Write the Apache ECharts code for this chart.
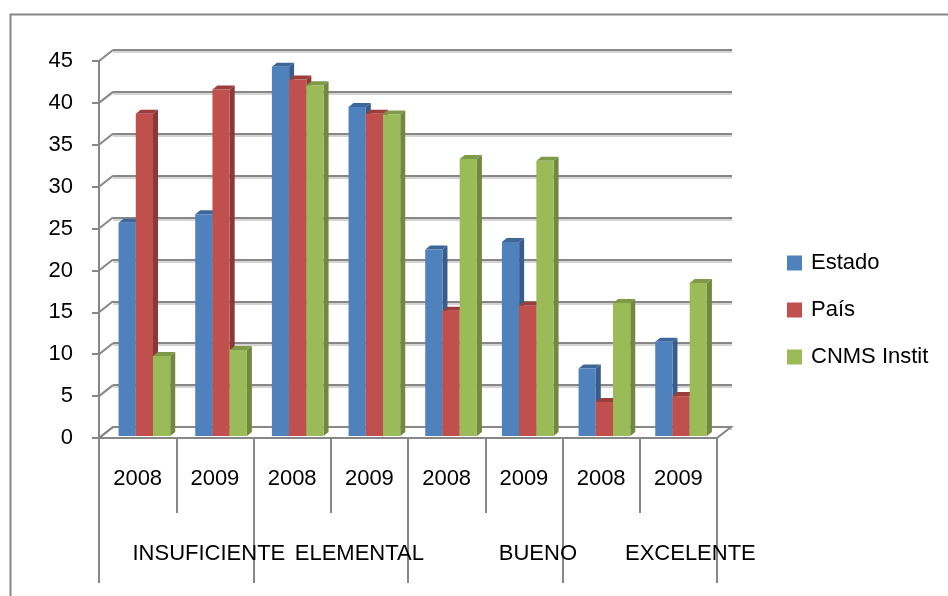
<!DOCTYPE html>
<html>
<head>
<meta charset="utf-8">
<script src="https://cdn.jsdelivr.net/npm/echarts@6/dist/echarts.min.js"></script>
<style>html,body{margin:0;padding:0;background:#fff}#c{width:948px;height:596px}</style>
</head>
<body>
<div id="c"></div>
<script>
const categories = ['2008', '2009', '2008', '2009', '2008', '2009', '2008', '2009'];
const groups = ['INSUFICIENTE', 'ELEMENTAL', 'BUENO', 'EXCELENTE'];
const seriesNames = ['Estado', 'País', 'CNMS Instit'];
const estado = [25.7, 26.7, 44.3, 39.5, 22.5, 23.4, 8.3, 11.5];
const pais = [38.7, 41.6, 42.8, 38.7, 15.2, 15.8, 4.3, 5.0];
const cnms = [9.8, 10.5, 42.1, 38.6, 33.3, 33.1, 16.1, 18.5];
const yTicks = [0, 5, 10, 15, 20, 25, 30, 35, 40, 45];

const FONT = 'Liberation Sans';
const GREY = '#878787';
const DX = 14, DY = 11;          // back-wall depth offset
const BDX = 5, BDY = 4;          // bar depth offset
const palette = [
  {front: '#4F81BD', side: '#385D8A', top: '#3D6799'},
  {front: '#C0504D', side: '#8C3836', top: '#9A3D3B'},
  {front: '#9BBB59', side: '#71893F', top: '#7E9A48'}
];
const values = [estado, pais, cnms];

// group label row: one label for each pair of years
const groupRow = [];
const shifts = [-6, -10, 14, 12];
groups.forEach((g, i) => {
  groupRow.push('');
  const s = shifts[i];
  groupRow.push({
    value: g,
    textStyle: {padding: s >= 0 ? [0, 0, 0, 2 * s] : [0, -2 * s, 0, 0]}
  });
});

function barSeries(si) {
  return {
    name: seriesNames[si],
    type: 'custom',
    xAxisIndex: 0, yAxisIndex: 0,
    itemStyle: {color: palette[si].front},
    z: 5 + si,
    data: values[si].map((v, i) => [i, v]),
    renderItem: function (params, api) {
      const idx = api.value(0), v = api.value(1);
      const base = api.coord([idx, 0]);
      const topPt = api.coord([idx, v]);
      const bw = api.size([1, 0])[0];
      const w = bw * 0.223;
      const x = base[0] - bw / 2 + bw * (0.253 - 0.0075 * idx) + si * w;
      const y0 = base[1] - 2;
      const y1 = topPt[1];
      const c = palette[si];
      return {
        type: 'group',
        children: [
          {type: 'polygon', shape: {points: [[x + w, y1], [x + w + BDX, y1 - BDY], [x + w + BDX, y0 - BDY], [x + w, y0]]}, style: {fill: c.side}},
          {type: 'polygon', shape: {points: [[x, y1], [x + BDX, y1 - BDY], [x + w + BDX, y1 - BDY], [x + w, y1]]}, style: {fill: c.top}},
          {type: 'rect', shape: {x: x, y: y1, width: w, height: y0 - y1}, style: {fill: c.front}}
        ]
      };
    }
  };
}

const chart = echarts.init(document.getElementById('c'), null, {renderer: 'canvas'});
chart.setOption({
  animation: false,
  backgroundColor: '#fff',
  textStyle: {fontFamily: FONT},
  graphic: [{
    type: 'rect', left: 8, top: 12, silent: true,
    shape: {width: 980, height: 640},
    style: {fill: 'none', stroke: GREY, lineWidth: 2}
  }],
  legend: {
    data: seriesNames,
    orient: 'vertical',
    left: 782, top: 245,
    icon: 'rect',
    itemWidth: 15, itemHeight: 15,
    itemGap: 21,
    textStyle: {fontFamily: FONT, fontSize: 22, color: '#000', lineHeight: 26, padding: [0, 0, 0, 4]}
  },
  grid: [
    {left: 99, right: 231, top: 61, bottom: 158},
    {left: 113, right: 216, top: 50, bottom: 169}
  ],
  xAxis: [
    {
      type: 'category', gridIndex: 0, data: categories, position: 'bottom',
      axisLine: {lineStyle: {color: GREY, width: 2}},
      axisTick: {show: true, interval: 0, length: 75, lineStyle: {color: GREY, width: 2}},
      axisLabel: {interval: 0, margin: 30, fontSize: 22, color: '#000', fontFamily: FONT},
      splitLine: {show: false}
    },
    {
      type: 'category', gridIndex: 0, data: groupRow, position: 'bottom',
      axisLine: {show: false},
      axisTick: {show: true, interval: function (i) { return i % 2 === 0; }, length: 145, lineStyle: {color: GREY, width: 2}},
      axisLabel: {interval: 0, margin: 105, fontSize: 22, color: '#000', fontFamily: FONT},
      splitLine: {show: false}
    },
    {
      type: 'category', gridIndex: 1, data: categories, show: true,
      axisLine: {show: false}, axisTick: {show: false}, axisLabel: {show: false}, splitLine: {show: false}
    }
  ],
  yAxis: [
    {
      type: 'value', gridIndex: 0, min: 0, max: 45, interval: 5,
      axisLine: {show: true, lineStyle: {color: GREY, width: 2}},
      axisTick: {show: true, length: 7, lineStyle: {color: GREY, width: 2}},
      axisLabel: {margin: 26, fontSize: 22, color: '#000', fontFamily: FONT},
      splitLine: {show: false}
    },
    {
      type: 'value', gridIndex: 1, min: 0, max: 45, interval: 5,
      axisLine: {show: false}, axisTick: {show: false}, axisLabel: {show: false},
      splitLine: {show: true, lineStyle: {color: GREY, width: 2, shadowColor: '#d4d4d4', shadowOffsetY: 2, shadowBlur: 0}}
    }
  ],
  series: [
    {
      type: 'custom', xAxisIndex: 0, yAxisIndex: 0, silent: true, z: 3,
      data: yTicks.map(v => [0, v]),
      renderItem: function (params, api) {
        const cs = params.coordSys;
        const y = api.coord([0, api.value(1)])[1];
        const children = [];
        if (api.value(1) === 0) {
          children.push({type: 'polygon', shape: {points: [[cs.x, y], [cs.x + cs.width, y], [cs.x + cs.width + DX, y - DY], [cs.x + DX, y - DY]]},
            style: {fill: '#fff', stroke: GREY, lineWidth: 2}});
        }
        children.push({type: 'line', shape: {x1: cs.x, y1: y, x2: cs.x + DX, y2: y - DY}, style: {stroke: GREY, lineWidth: 2}});
        return {type: 'group', children: children};
      }
    },
    barSeries(0), barSeries(1), barSeries(2)
  ]
});
</script>
</body>
</html>
